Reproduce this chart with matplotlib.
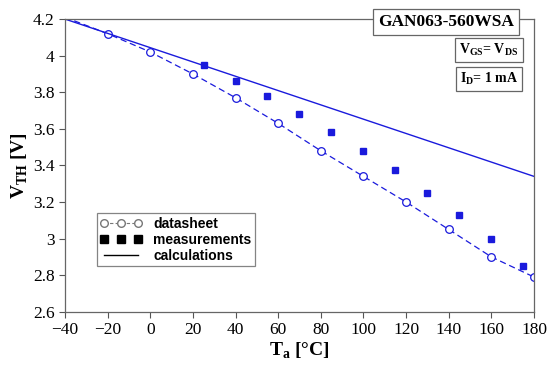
import numpy as np
import matplotlib.pyplot as plt
from matplotlib.lines import Line2D

# datasheet values (first point only continues the dashed line)
ds_T = [-40, -20, 0, 20, 40, 60, 80, 100, 120, 140, 160, 180]
ds_V = [4.21, 4.12, 4.02, 3.90, 3.77, 3.63, 3.48, 3.34, 3.20, 3.05, 2.90, 2.79]

# measurements
ms_T = [25, 40, 55, 70, 85, 100, 115, 130, 145, 160, 175]
ms_V = [3.95, 3.86, 3.78, 3.68, 3.585, 3.48, 3.375, 3.25, 3.13, 3.00, 2.85]

# calculations
calc_T = [-40, 180]
calc_V = [4.20, 3.34]

blue = '#1a1adc'
serif = 'Liberation Serif'

fig = plt.figure(figsize=(5.5, 3.73), dpi=100)
ax = fig.add_axes([0.118, 0.164, 0.853, 0.785])

ax.plot(ds_T, ds_V, color=blue, ls=(0, (5, 3)), lw=0.9, marker='o', ms=5.5,
        mfc='white', mec=blue, mew=0.9, markevery=list(range(1, len(ds_T))))
ax.plot(ms_T, ms_V, ls='none', marker='s', ms=5, color=blue, mec=blue)
ax.plot(calc_T, calc_V, color=blue, lw=1.0)

ax.set_xlim(-40, 180)
ax.set_ylim(2.6, 4.2)
ax.set_xticks(np.arange(-40, 181, 20))
ax.set_yticks([2.6, 2.8, 3.0, 3.2, 3.4, 3.6, 3.8, 4.0, 4.2])
ax.set_yticklabels(['2.6', '2.8', '3', '3.2', '3.4', '3.6', '3.8', '4', '4.2'])
ax.set_xticklabels(['\u221240', '\u221220', '0', '20', '40', '60', '80', '100', '120', '140', '160', '180'])
for lab in ax.get_xticklabels() + ax.get_yticklabels():
    lab.set_fontfamily(serif)
    lab.set_fontsize(12.5)
ax.tick_params(direction='out', length=4, width=0.8, color='#555555')
for s in ax.spines.values():
    s.set_color('#666666')
    s.set_linewidth(0.9)

ax.set_xlabel(r'T$_\mathregular{a}$ [°C]', fontfamily=serif, fontsize=14, fontweight='bold', labelpad=2)
ax.set_ylabel(r'V$_\mathregular{TH}$ [V]', fontfamily=serif, fontsize=14, fontweight='bold', labelpad=2)

# info boxes
ax.text(0.812, 0.99, 'GAN063-560WSA', transform=ax.transAxes, ha='center', va='center',
        fontfamily=serif, fontsize=12.5, fontweight='bold', zorder=5, clip_on=False,
        bbox=dict(boxstyle='square,pad=0.3', fc='white', ec='#666666', lw=0.9))
ax.text(0.904, 0.894, r'V$_\mathregular{GS}$= V$_\mathregular{DS}$', transform=ax.transAxes,
        ha='center', va='center', fontfamily=serif, fontsize=10, fontweight='bold',
        bbox=dict(boxstyle='square,pad=0.3', fc='white', ec='#666666', lw=0.9))
ax.text(0.904, 0.795, r'I$_\mathregular{D}$= 1 mA', transform=ax.transAxes,
        ha='center', va='center', fontfamily=serif, fontsize=10, fontweight='bold',
        bbox=dict(boxstyle='square,pad=0.3', fc='white', ec='#666666', lw=0.9))

handles = [
    Line2D([], [], color='#777777', ls=(0, (3, 2)), lw=0.8, marker='o', mfc='white', mec='#777777', ms=5.5),
    Line2D([], [], ls='none', marker='s', color='black', ms=6),
    Line2D([], [], color='black', lw=1.0),
]
leg = ax.legend(handles, ['datasheet', 'measurements', 'calculations'], loc='lower left',
                bbox_to_anchor=(0.068, 0.155), numpoints=3, handlelength=3.0, handletextpad=0.8,
                fancybox=False, edgecolor='#666666', borderpad=0.25, labelspacing=0.15,
                borderaxespad=0, prop=dict(family='Liberation Sans', weight='bold', size=10))
leg.get_frame().set_linewidth(0.9)

fig.savefig('out.png', dpi=100)
